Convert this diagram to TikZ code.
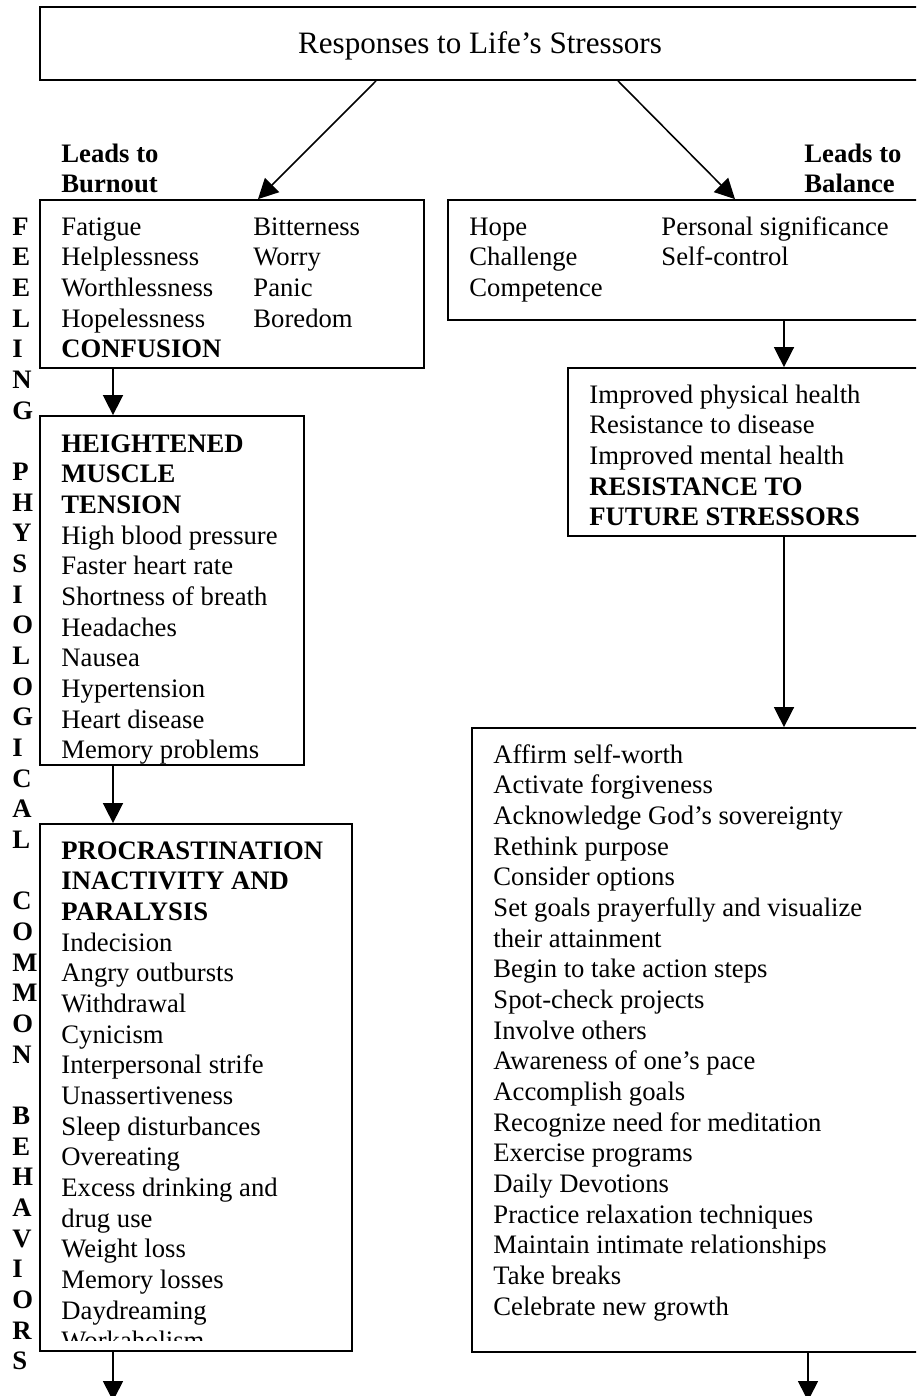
\documentclass[tikz,border=0pt]{standalone}
\usepackage{fontspec}
\setmainfont{Liberation Serif}
\usepackage{tikz}
\usetikzlibrary{arrows.meta, fit}
\tikzstyle{frame} = [rectangle, draw = black, line width=0.8pt, inner sep=0pt]
\tikzstyle{listtext} = [anchor=base west, align=left, inner sep=0pt, font=\fontsize{12}{13.8}\selectfont]
\tikzstyle{headtext} = [listtext, font=\fontsize{12}{13.8}\selectfont\bfseries]
\tikzstyle{arrow} = [line width=0.7pt, -{Triangle[length=9pt, width=9pt]}]
% one text line = 13.8pt = 30.667 units
\newcommand{\lineskp}{30.667}

\begin{document}
\begin{tikzpicture}[x=0.45pt, y=-0.45pt]
	\clip (0,0) rectangle (916,1396);
	% boxes
	\node (title) [frame, fit={(40,7) (920,80)}] {};
	\node (feel) [frame, fit={(40,200) (424,368)}] {};
	\node (phys) [frame, fit={(40,416) (304,765)}] {};
	\node (behav) [frame, fit={(40,824) (352,1351)}] {};
	\node (hope) [frame, fit={(448,200) (930,320)}] {};
	\node (health) [frame, fit={(568,368) (930,536)}] {};
	\node (steps) [frame, fit={(472,728) (930,1352)}] {};
	
	% texts (placed at the baseline of their last line)
	\node (titletxt) [anchor=base, inner sep=0pt, font=\fontsize{14}{16}\selectfont] at (480,53) {Responses to Life’s Stressors};
	\node (burnout) [headtext] at (61,{162+1*\lineskp}) {Leads to\\Burnout};
	\node (balance) [headtext] at (804,{162+1*\lineskp}) {Leads to\\Balance};
	\node (side) [headtext] at (12,{235+37*\lineskp}) {F\\E\\E\\L\\I\\N\\G\\[13.8pt]P\\H\\Y\\S\\I\\O\\L\\O\\G\\I\\C\\A\\L\\[13.8pt]C\\O\\M\\M\\O\\N\\[13.8pt]B\\E\\H\\A\\V\\I\\O\\R\\S};
	\node (feelA) [listtext] at (61,{235+4*\lineskp}) {Fatigue\\Helplessness\\Worthlessness\\Hopelessness\\\textbf{CONFUSION}};
	\node (feelB) [listtext] at (253,{235+3*\lineskp}) {Bitterness\\Worry\\Panic\\Boredom};
	\node (hopeA) [listtext] at (469,{235+2*\lineskp}) {Hope\\Challenge\\Competence};
	\node (hopeB) [listtext] at (661,{235+1*\lineskp}) {Personal significance\\Self-control};
	\node (phystxt) [listtext] at (61,{452+10*\lineskp}) {\textbf{HEIGHTENED}\\\textbf{MUSCLE}\\\textbf{TENSION}\\High blood pressure\\Faster heart rate\\Shortness of breath\\Headaches\\Nausea\\Hypertension\\Heart disease\\Memory problems};
	\node (healthtxt) [listtext] at (589,{403+4*\lineskp}) {Improved physical health\\Resistance to disease\\Improved mental health\\\textbf{RESISTANCE TO}\\\textbf{FUTURE STRESSORS}};
	\begin{scope}
		\clip (40,824) rectangle (352,1340);
		\node (behavtxt) [listtext] at (61,{859+16*\lineskp}) {\textbf{PROCRASTINATION}\\\textbf{INACTIVITY AND}\\\textbf{PARALYSIS}\\Indecision\\Angry outbursts\\Withdrawal\\Cynicism\\Interpersonal strife\\Unassertiveness\\Sleep disturbances\\Overeating\\Excess drinking and\\drug use\\Weight loss\\Memory losses\\Daydreaming\\Workaholism};
	\end{scope}
	\node (stepstxt) [listtext] at (493,{763+18*\lineskp}) {Affirm self-worth\\Activate forgiveness\\Acknowledge God’s sovereignty\\Rethink purpose\\Consider options\\Set goals prayerfully and visualize\\their attainment\\Begin to take action steps\\Spot-check projects\\Involve others\\Awareness of one’s pace\\Accomplish goals\\Recognize need for meditation\\Exercise programs\\Daily Devotions\\Practice relaxation techniques\\Maintain intimate relationships\\Take breaks\\Celebrate new growth};
	
	% arrow columns
	\coordinate (la) at (376,0);
	\coordinate (lb) at (258,0);
	\coordinate (ra) at (618,0);
	\coordinate (rb) at (735,0);
	\coordinate (lx) at (113,0);
	\coordinate (rx) at (784,0);
	\coordinate (lend) at (113,1401);
	\coordinate (rend) at (808,1401);
	
	\draw [arrow](title.south -| la) -- (feel.north -| lb);
	\draw [arrow](title.south -| ra) -- (hope.north -| rb);
	\draw [arrow](feel.south -| lx) -- (phys.north -| lx);
	\draw [arrow](phys.south -| lx) -- (behav.north -| lx);
	\draw [arrow](behav.south -| lx) -- (lend);
	\draw [arrow](hope.south -| rx) -- (health.north -| rx);
	\draw [arrow](health.south -| rx) -- (steps.north -| rx);
	\draw [arrow](steps.south -| rend) -- (rend);
\end{tikzpicture}
\end{document}
